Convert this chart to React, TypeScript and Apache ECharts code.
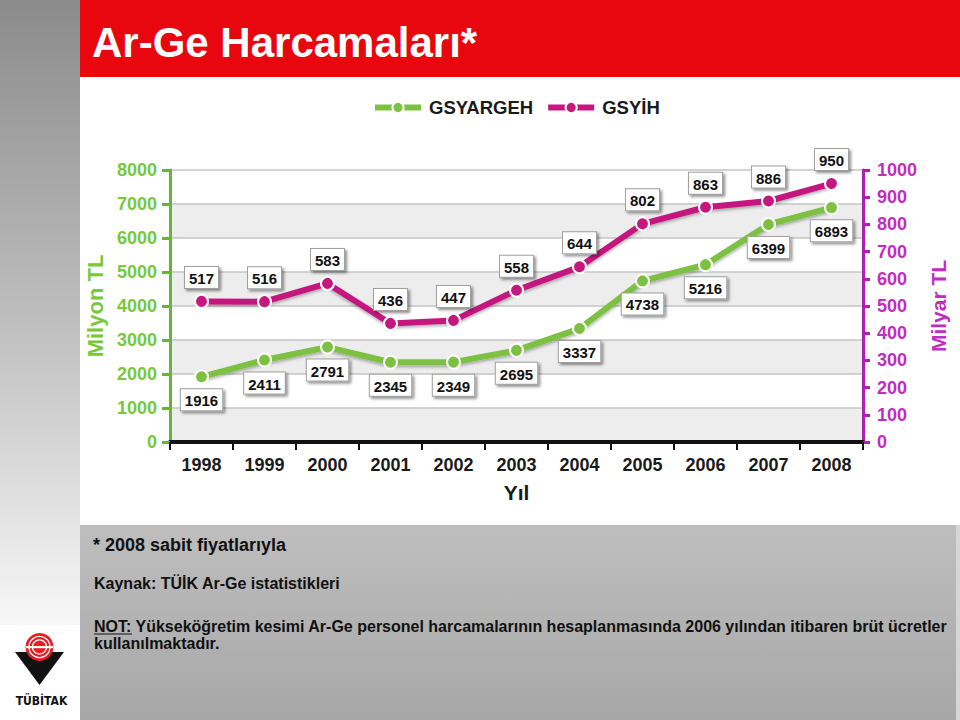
import React, { useEffect, useRef } from "react";
import * as echarts from "echarts";

const years = ["1998", "1999", "2000", "2001", "2002", "2003", "2004", "2005", "2006", "2007", "2008"];
const gsyargeh = [1916, 2411, 2791, 2345, 2349, 2695, 3337, 4738, 5216, 6399, 6893];
const gsyih = [517, 516, 583, 436, 447, 558, 644, 802, 863, 886, 950];
const seriesNames = ["GSYARGEH", "GSYİH"];
const leftAxisName = "Milyon TL";
const rightAxisName = "Milyar TL";
const xAxisName = "Yıl";
const titleText = "Ar-Ge Harcamaları*";
const note1 = "* 2008 sabit fiyatlarıyla";
const note2 = "Kaynak: TÜİK Ar-Ge istatistikleri";
const note3a = "NOT:";
const note3b = " Yükseköğretim kesimi Ar-Ge personel harcamalarının hesaplanmasında 2006 yılından itibaren brüt ücretler";
const note4 = "kullanılmaktadır.";
const logoText = "TÜBİTAK";

const FONT = "'Liberation Sans', Arial, Helvetica, sans-serif";
const GREEN = "#7cc142";
const GREEN_LABEL = "#78c83a";
const MAGENTA = "#c4187f";
const PURPLE = "#b41db4";
const PURPLE_LABEL = "#c22bc4";

const labelBox = {
  show: true,
  fontFamily: FONT,
  fontWeight: "bold" as const,
  fontSize: 15,
  color: "#111",
  backgroundColor: "#ffffff",
  borderColor: "#a0a0a0",
  borderWidth: 1,
  padding: [4, 4, 2, 4],
  shadowBlur: 3,
  shadowColor: "rgba(0,0,0,0.45)",
  shadowOffsetX: 2,
  shadowOffsetY: 2,
};

const plain = (v: number) => String(v);

export default function App() {
  const ref = useRef<HTMLDivElement>(null);
  useEffect(() => {
    document.body.style.margin = "0";
    const chart = echarts.init(ref.current!, null, { renderer: "svg" });
    const option: any = {
      animation: false,
      backgroundColor: "#ffffff",
      textStyle: { fontFamily: FONT },
      graphic: [
        {
          type: "rect",
          z: -10,
          shape: { x: 0, y: 0, width: 80, height: 625 },
          style: {
            fill: new echarts.graphic.LinearGradient(0, 0, 0, 1, [
              { offset: 0, color: "#8b8b8b" },
              { offset: 0.5, color: "#bdbdbd" },
              { offset: 1, color: "#f7f7f7" },
            ]),
          },
        },
        {
          type: "rect",
          z: -10,
          shape: { x: 80, y: 0, width: 880, height: 77 },
          style: { fill: "#e8070e" },
        },
        {
          type: "text",
          z: 10,
          x: 92,
          y: 42,
          style: {
            text: titleText,
            fill: "#ffffff",
            font: `bold 42px ${FONT}`,
            verticalAlign: "middle",
          },
        },
        {
          type: "rect",
          z: -10,
          shape: { x: 80, y: 525, width: 876, height: 195 },
          style: {
            fill: new echarts.graphic.LinearGradient(0, 0, 0, 1, [
              { offset: 0, color: "#bebebe" },
              { offset: 1, color: "#a7a7a7" },
            ]),
          },
        },
        {
          type: "rect",
          z: -10,
          shape: { x: 956, y: 525, width: 4, height: 195 },
          style: { fill: "#d6d6d6" },
        },
        {
          type: "text",
          z: 10,
          x: 93,
          y: 545,
          style: { text: note1, fill: "#111", font: `bold 18px ${FONT}`, verticalAlign: "middle" },
        },
        {
          type: "text",
          z: 10,
          x: 94,
          y: 583,
          style: { text: note2, fill: "#111", font: `bold 16px ${FONT}`, verticalAlign: "middle" },
        },
        {
          type: "text",
          z: 10,
          x: 94,
          y: 626,
          style: {
            text: note3a + note3b,
            fill: "#111",
            font: `bold 16px ${FONT}`,
            verticalAlign: "middle",
          },
        },
        {
          type: "line",
          z: 10,
          shape: { x1: 94, y1: 634, x2: 132, y2: 634 },
          style: { stroke: "#111", lineWidth: 1.2 },
        },
        {
          type: "text",
          z: 10,
          x: 94,
          y: 643,
          style: { text: note4, fill: "#111", font: `bold 16px ${FONT}`, verticalAlign: "middle" },
        },
        {
          type: "polygon",
          z: 10,
          shape: { points: [[15, 652], [64, 652], [39.5, 685]] },
          style: { fill: "#111" },
        },
        {
          type: "circle",
          z: 11,
          shape: { cx: 39.5, cy: 647, r: 14 },
          style: { fill: "#e31e24" },
        },
        {
          type: "circle",
          z: 12,
          shape: { cx: 39.5, cy: 647, r: 10.5 },
          style: { fill: "none", stroke: "#ffffff", lineWidth: 1.3 },
        },
        {
          type: "circle",
          z: 12,
          shape: { cx: 39.5, cy: 647, r: 7 },
          style: { fill: "none", stroke: "#ffffff", lineWidth: 1.3 },
        },
        {
          type: "rect",
          z: 13,
          shape: { x: 26, y: 646, width: 27, height: 2.2 },
          style: { fill: "#ffffff" },
        },
        {
          type: "text",
          z: 10,
          x: 41.5,
          y: 701,
          style: {
            text: logoText,
            fill: "#111",
            font: `bold 12px 'DejaVu Sans Condensed', ${FONT}`,
            align: "center",
            verticalAlign: "middle",
          },
        },
      ],
      legend: {
        left: 372,
        top: 98,
        padding: 0,
        itemWidth: 46,
        itemHeight: 14,
        itemGap: 12,
        lineStyle: { width: 6 },
        itemStyle: { borderColor: "#ffffff", borderWidth: 2 },
        textStyle: { fontFamily: FONT, fontWeight: "bold", fontSize: 18.5, color: "#1a1a1a", padding: [0, 0, 0, 3] },
        data: seriesNames,
      },
      grid: { left: 170, right: 97, top: 170, bottom: 278, containLabel: false },
      xAxis: {
        type: "category",
        data: years,
        boundaryGap: true,
        name: xAxisName,
        nameLocation: "middle",
        nameGap: 40,
        nameTextStyle: { fontFamily: FONT, fontWeight: "bold", fontSize: 21, color: "#1a1a1a" },
        axisLine: { lineStyle: { color: "#111", width: 4 } },
        axisTick: { show: true, length: 8, lineStyle: { color: "#111", width: 2 } },
        axisLabel: { margin: 14, fontFamily: FONT, fontWeight: "bold", fontSize: 18, color: "#1a1a1a" },
      },
      yAxis: [
        {
          type: "value",
          position: "left",
          min: 0,
          max: 8000,
          interval: 1000,
          name: leftAxisName,
          nameLocation: "middle",
          nameRotate: 90,
          nameGap: 48,
          nameTextStyle: { fontFamily: FONT, fontWeight: "bold", fontSize: 22, color: GREEN_LABEL },
          axisLine: { show: true, lineStyle: { color: "#6bb536", width: 3 } },
          axisTick: { show: true, length: 8, lineStyle: { color: "#6bb536", width: 3 } },
          axisLabel: { margin: 13, fontFamily: FONT, fontWeight: "bold", fontSize: 18, color: GREEN_LABEL, formatter: plain },
          splitLine: { show: true, lineStyle: { color: "#c4c4c4", width: 1.5 } },
          splitArea: { show: true, areaStyle: { color: ["#ededed", "#ffffff"] } },
        },
        {
          type: "value",
          position: "right",
          min: 0,
          max: 1000,
          interval: 100,
          name: rightAxisName,
          nameLocation: "middle",
          nameRotate: 90,
          nameGap: 56,
          nameTextStyle: { fontFamily: FONT, fontWeight: "bold", fontSize: 21, color: PURPLE_LABEL },
          axisLine: { show: true, lineStyle: { color: PURPLE, width: 3 } },
          axisTick: { show: true, length: 7, lineStyle: { color: PURPLE, width: 3 } },
          axisLabel: { margin: 14, fontFamily: FONT, fontWeight: "bold", fontSize: 18, color: PURPLE_LABEL, formatter: plain },
          splitLine: { show: false },
        },
      ],
      series: [
        {
          name: seriesNames[0],
          type: "line",
          yAxisIndex: 0,
          data: gsyargeh,
          symbol: "circle",
          symbolSize: 13,
          z: 3,
          lineStyle: { color: GREEN, width: 6, shadowBlur: 3, shadowColor: "rgba(0,0,0,0.3)", shadowOffsetY: 2 },
          itemStyle: { color: GREEN, borderColor: "#ffffff", borderWidth: 2 },
          label: { ...labelBox, position: "bottom", distance: 5 },
        },
        {
          name: seriesNames[1],
          type: "line",
          yAxisIndex: 1,
          data: gsyih,
          symbol: "circle",
          symbolSize: 13,
          z: 3,
          lineStyle: { color: MAGENTA, width: 6, shadowBlur: 3, shadowColor: "rgba(0,0,0,0.3)", shadowOffsetY: 2 },
          itemStyle: { color: MAGENTA, borderColor: "#ffffff", borderWidth: 2 },
          label: { ...labelBox, position: "top", distance: 6 },
        },
      ],
    };
    chart.setOption(option);
    return () => chart.dispose();
  }, []);
  return <div ref={ref} style={{ width: 960, height: 720 }} />;
}
